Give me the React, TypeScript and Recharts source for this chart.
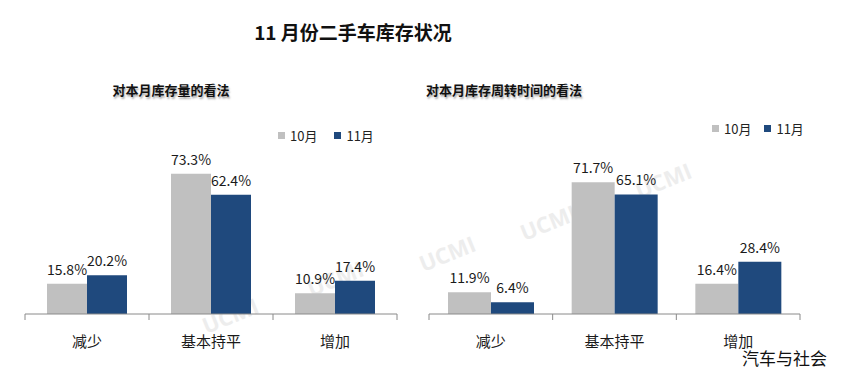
import React from "react";
import { BarChart, Bar, XAxis, YAxis, Legend, LabelList } from "recharts";

const categories = ["减少", "基本持平", "增加"];
const seriesNames = ["10月", "11月"];
const stockOct = [15.8, 73.3, 10.9];
const stockNov = [20.2, 62.4, 17.4];
const turnoverOct = [11.9, 71.7, 16.4];
const turnoverNov = [6.4, 65.1, 28.4];

const GRAY = "#c0c0c0";
const BLUE = "#1f497d";
const FONT = "'Noto Sans CJK SC', 'Noto Sans', sans-serif";

const buildRows = (oct: number[], nov: number[]) =>
  categories.map((name, i) => ({ name, oct: oct[i], nov: nov[i] }));

const stockData = buildRows(stockOct, stockNov);
const turnoverData = buildRows(turnoverOct, turnoverNov);

// watermark spots (center x, y)
const watermarks = [
  [230, 315],
  [335, 278],
  [447, 253],
  [548, 222],
  [663, 180],
];

interface PanelProps {
  data: any[];
  left: number;
  width: number;
  margin: { top: number; right: number; bottom: number; left: number };
  barSize: number;
  legendLeft: number;
  legendTop: number;
  legendGap: number;
}

const CategoryTick = (props: any) => {
  const { x, y, payload, index, visibleTicksCount, band } = props;
  const half = band / 2;
  return (
    <g>
      <line x1={x - half} y1={y} x2={x - half} y2={y + 6} stroke="#8a8a8a" />
      {index === visibleTicksCount - 1 && (
        <line x1={x + half} y1={y} x2={x + half} y2={y + 6} stroke="#8a8a8a" />
      )}
      <text
        x={x}
        y={y + 26}
        textAnchor="middle"
        dominantBaseline="central"
        fontSize={15}
        fill="#1a1a1a"
        fontFamily={FONT}
      >
        {payload.value}
      </text>
    </g>
  );
};

const Panel: React.FC<PanelProps> = ({
  data,
  left,
  width,
  margin,
  barSize,
  legendLeft,
  legendTop,
  legendGap,
}) => {
  const band = (width - margin.left - margin.right) / categories.length;

  const renderLegend = (props: any) => (
    <div
      style={{
        display: "flex",
        alignItems: "center",
        fontSize: 13,
        color: "#222",
        fontFamily: FONT,
        whiteSpace: "nowrap",
      }}
    >
      {props.payload.map((entry: any, i: number) => (
        <span
          key={i}
          style={{
            display: "flex",
            alignItems: "center",
            marginRight: i === 0 ? legendGap : 0,
          }}
        >
          <span
            style={{
              width: 7,
              height: 7,
              background: entry.color,
              marginRight: 5,
              display: "inline-block",
            }}
          />
          {entry.value}
        </span>
      ))}
    </div>
  );

  return (
    <div style={{ position: "absolute", left, top: 0 }}>
      <BarChart
        width={width}
        height={370}
        data={data}
        margin={margin}
        barGap={0}
      >
        <XAxis
          dataKey="name"
          height={40}
          axisLine={{ stroke: "#8a8a8a" }}
          tickLine={false}
          tickSize={0}
          tickMargin={0}
          interval={0}
          tick={<CategoryTick band={band} />}
        />
        <YAxis hide domain={[0, 80]} />
        <Legend
          layout="horizontal"
          align="center"
          verticalAlign="middle"
          content={renderLegend}
          wrapperStyle={{ left: legendLeft, top: legendTop, width: "auto" }}
        />
        <Bar
          dataKey="oct"
          name={seriesNames[0]}
          fill={GRAY}
          barSize={barSize}
          isAnimationActive={false}
        >
          <LabelList
            dataKey="oct"
            position="top"
            offset={9}
            formatter={(v: any) => `${Number(v).toFixed(1)}%`}
            style={{ fontSize: 14, fill: "#1a1a1a", fontFamily: FONT }}
          />
        </Bar>
        <Bar
          dataKey="nov"
          name={seriesNames[1]}
          fill={BLUE}
          barSize={barSize}
          isAnimationActive={false}
        >
          <LabelList
            dataKey="nov"
            position="top"
            offset={9}
            formatter={(v: any) => `${Number(v).toFixed(1)}%`}
            style={{ fontSize: 14, fill: "#1a1a1a", fontFamily: FONT }}
          />
        </Bar>
      </BarChart>
    </div>
  );
};

const subtitleStyle: React.CSSProperties = {
  position: "absolute",
  top: 80,
  transform: "translateX(-50%)",
  fontSize: 13,
  fontWeight: 700,
  lineHeight: "20px",
  color: "#111",
  whiteSpace: "nowrap",
  textShadow: "1px 2px 2px rgba(0,0,0,0.35)",
};

export default function App() {
  return (
    <div
      style={{
        position: "absolute",
        left: 0,
        top: 0,
        width: 842,
        height: 370,
        background: "#fff",
        fontFamily: FONT,
        overflow: "hidden",
      }}
    >
      <svg
        width={842}
        height={370}
        style={{ position: "absolute", left: 0, top: 0 }}
      >
        {watermarks.map(([cx, cy], i) => (
          <text
            key={i}
            x={cx}
            y={cy}
            textAnchor="middle"
            dominantBaseline="central"
            fontSize={22}
            fontWeight={700}
            fill="#ededed"
            fontFamily="'Open Sans', sans-serif"
            transform={`rotate(-22 ${cx} ${cy})`}
          >
            UCMI
          </text>
        ))}
      </svg>
      <div
        style={{
          position: "absolute",
          left: 353,
          top: 21,
          transform: "translateX(-50%)",
          fontSize: 19,
          fontWeight: 700,
          lineHeight: "22px",
          color: "#111",
          whiteSpace: "nowrap",
        }}
      >
        11 月份二手车库存状况
      </div>
      <div style={{ ...subtitleStyle, left: 171 }}>对本月库存量的看法</div>
      <div style={{ ...subtitleStyle, left: 504 }}>对本月库存周转时间的看法</div>
      <Panel
        data={stockData}
        left={0}
        width={420}
        margin={{ top: 161, right: 23, bottom: 16, left: 25 }}
        barSize={40}
        legendLeft={278}
        legendTop={126}
        legendGap={17}
      />
      <Panel
        data={turnoverData}
        left={420}
        width={422}
        margin={{ top: 167, right: 42, bottom: 16, left: 9 }}
        barSize={43}
        legendLeft={292}
        legendTop={119}
        legendGap={13}
      />
      <div
        style={{
          position: "absolute",
          left: 742,
          top: 350,
          fontSize: 17,
          lineHeight: "16px",
          color: "#111",
          whiteSpace: "nowrap",
        }}
      >
        汽车与社会
      </div>
    </div>
  );
}
